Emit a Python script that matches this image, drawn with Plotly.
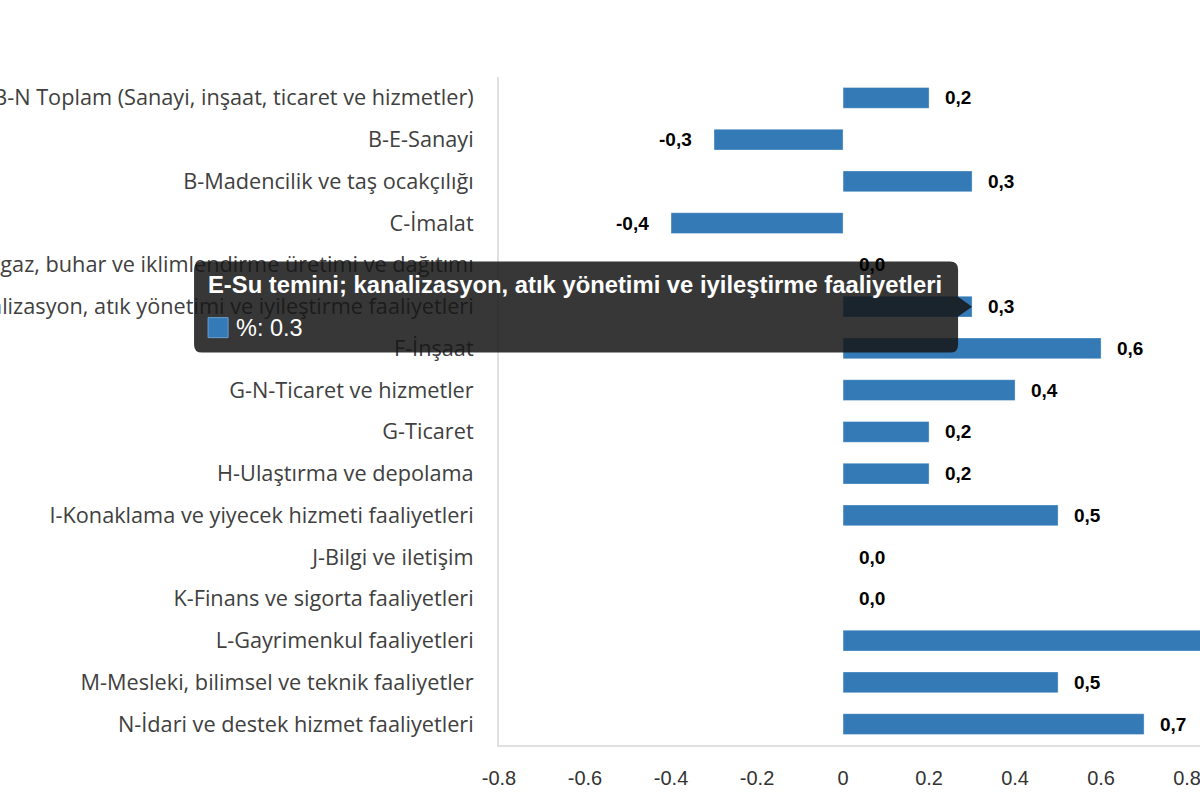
import plotly.graph_objects as go

categories = [
    "B-N Toplam (Sanayi, inşaat, ticaret ve hizmetler)",
    "B-E-Sanayi",
    "B-Madencilik ve taş ocakçılığı",
    "C-İmalat",
    "D-Elektrik, gaz, buhar ve iklimlendirme üretimi ve dağıtımı",
    "E-Su temini; kanalizasyon, atık yönetimi ve iyileştirme faaliyetleri",
    "F-İnşaat",
    "G-N-Ticaret ve hizmetler",
    "G-Ticaret",
    "H-Ulaştırma ve depolama",
    "I-Konaklama ve yiyecek hizmeti faaliyetleri",
    "J-Bilgi ve iletişim",
    "K-Finans ve sigorta faaliyetleri",
    "L-Gayrimenkul faaliyetleri",
    "M-Mesleki, bilimsel ve teknik faaliyetler",
    "N-İdari ve destek hizmet faaliyetleri",
]
values = [0.2, -0.3, 0.3, -0.4, 0.0, 0.3, 0.6, 0.4, 0.2, 0.2, 0.5, 0.0, 0.0, 0.9, 0.5, 0.7]
x_ticks = [-0.8, -0.6, -0.4, -0.2, 0, 0.2, 0.4, 0.6, 0.8]
x_tick_labels = ["-0.8", "-0.6", "-0.4", "-0.2", "0", "0.2", "0.4", "0.6", "0.8"]
series_name = "%"
hover_index = 5

BAR = "#337AB7"
FIG_W, FIG_H = 1200, 800
ML, MR, MT, MB = 499, 0, 77, 55
PW, PH = FIG_W - ML - MR, FIG_H - MT - MB
XMIN, XMAX = -0.8, 0.83
n = len(categories)
ypos = list(range(n))

fig = go.Figure()
fig.add_trace(go.Bar(
    x=values, y=ypos, orientation="h", width=0.5,
    marker=dict(color=BAR, line=dict(color="rgba(255,255,255,0.35)", width=1)),
    name=series_name, showlegend=False, hoverinfo="skip",
))

annotations = []
for i, v in enumerate(values):
    annotations.append(dict(
        x=v, y=i, xref="x", yref="y",
        text="<b>" + f"{v:.1f}".replace(".", ",") + "</b>",
        showarrow=False,
        xanchor="left" if v >= 0 else "right",
        xshift=14 if v >= 0 else -20,
        font=dict(family="Liberation Sans, Arial, sans-serif", size=19, color="#000000"),
    ))

# hover label drawn at the hovered bar's end
hv = values[hover_index]
tip_x = ML + (hv - XMIN) / (XMAX - XMIN) * PW
tip_y = MT + (hover_index + 0.5) / n * PH


def px(dx):
    return (tip_x + dx - ML) / PW


def py(dy):  # dy in pixels downward from tip
    return (MT + PH - (tip_y + dy)) / PH


box = [("M", -770, -45), ("L", -22, -45), ("Q", -14, -45, -14, -37), ("L", -14, -10),
       ("L", 0, 0), ("L", -14, 10), ("L", -14, 38), ("Q", -14, 46, -22, 46),
       ("L", -770, 46), ("Q", -778, 46, -778, 38), ("L", -778, -37),
       ("Q", -778, -45, -770, -45)]
parts = []
for seg in box:
    cmd, nums = seg[0], seg[1:]
    pts = []
    for k in range(0, len(nums), 2):
        pts.append(f"{px(nums[k]):.5f},{py(nums[k + 1]):.5f}")
    parts.append(cmd + " " + " ".join(pts))
tip_path = " ".join(parts) + " Z"

shapes = [
    dict(type="path", xref="paper", yref="paper", path=tip_path,
         fillcolor="rgba(22,22,22,0.86)", line=dict(width=0), layer="above"),
    dict(type="rect", xref="paper", yref="paper",
         x0=px(-764), x1=px(-744), y0=py(11), y1=py(31),
         fillcolor=BAR, line=dict(color="#6a9fd0", width=1), layer="above"),
]
annotations.append(dict(
    x=px(-766), y=py(-22), xref="paper", yref="paper", showarrow=False,
    text="<b>" + categories[hover_index] + "</b>",
    xanchor="left", yanchor="middle",
    font=dict(family="Liberation Sans, Arial, sans-serif", size=23.8, color="#ffffff"),
))
annotations.append(dict(
    x=px(-738), y=py(21), xref="paper", yref="paper", showarrow=False,
    text=f"{series_name}: {hv}",
    xanchor="left", yanchor="middle",
    font=dict(family="Liberation Sans, Arial, sans-serif", size=23.5, color="#ffffff"),
))

fig.update_layout(
    width=FIG_W, height=FIG_H,
    margin=dict(l=ML, r=MR, t=MT, b=MB),
    plot_bgcolor="#ffffff", paper_bgcolor="#ffffff",
    bargap=0.5,
    xaxis=dict(
        range=[XMIN, XMAX], tickvals=x_ticks, ticktext=x_tick_labels,
        showgrid=False, zeroline=False, showline=True, linecolor="#e0e0e0", linewidth=2,
        ticks="", tickfont=dict(family="Liberation Sans, Arial, sans-serif", size=20, color="#333333"),
        automargin=False, ticklabelstandoff=14, ticklabeloverflow="allow",
    ),
    yaxis=dict(
        range=[n - 0.5, -0.5], tickvals=ypos, ticktext=categories,
        showgrid=False, zeroline=False, showline=True, linecolor="#e0e0e0", linewidth=2,
        ticks="", tickfont=dict(family="Open Sans, Noto Sans, sans-serif", size=21.7, color="#404040"),
        automargin=False, ticklabelstandoff=19, ticklabeloverflow="allow",
    ),
    shapes=shapes,
    annotations=annotations,
)

fig.write_html("out.html", config={"displayModeBar": False},
               post_script="document.body.style.margin='0';document.body.style.overflow='hidden';")
